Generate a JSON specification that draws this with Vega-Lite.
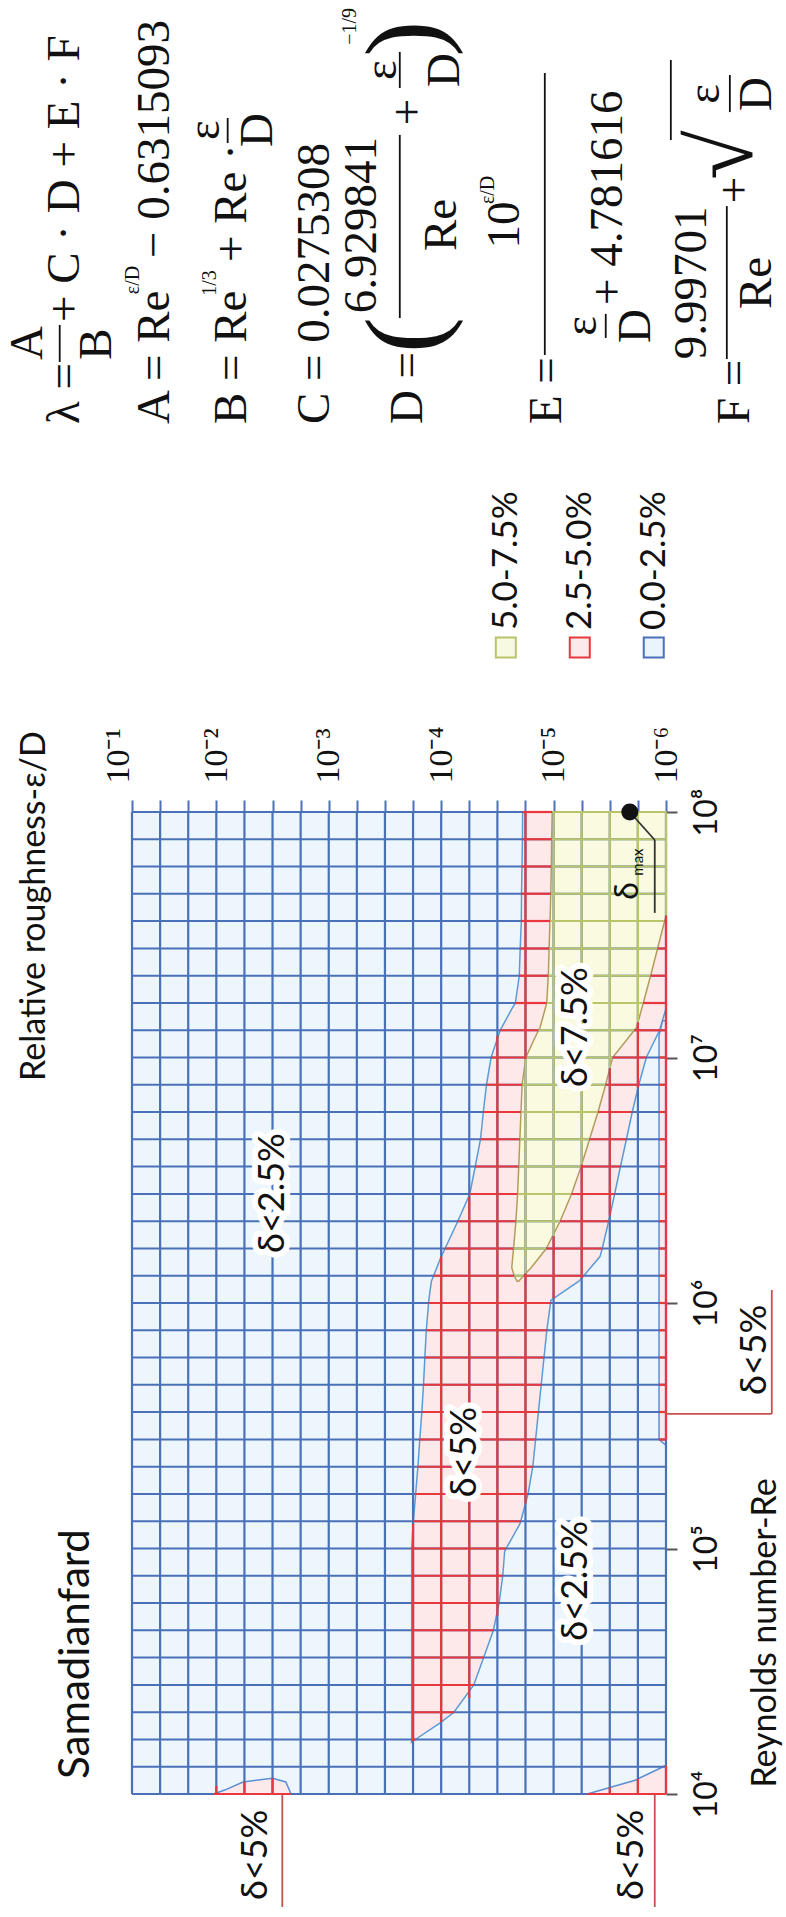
{
  "$schema": "https://vega.github.io/schema/vega-lite/v6.json",
  "width": 534,
  "height": 982,
  "autosize": {"type": "none"},
  "padding": {"left": 132, "top": 812, "right": 120, "bottom": 123},
  "background": "white",
  "config": {"view": {"stroke": null, "fill": "#edf6fd"}},
  "datasets": {
    "redA": [
      {"lre": 8, "lr": -4.725, "lr2": -6}, {"lre": 7.889, "lr": -4.723, "lr2": -6}, {"lre": 7.778, "lr": -4.719, "lr2": -6},
      {"lre": 7.667, "lr": -4.715, "lr2": -6}, {"lre": 7.556, "lr": -4.713, "lr2": -6}, {"lre": 7.444, "lr": -4.703, "lr2": -6},
      {"lre": 7.333, "lr": -4.695, "lr2": -6}, {"lre": 7.222, "lr": -4.66, "lr2": -6}, {"lre": 7.2, "lr": -4.631, "lr2": -6},
      {"lre": 7.122, "lr": -4.538, "lr2": -5.95}, {"lre": 7.111, "lr": -4.525, "lr2": -5.943}, {"lre": 7.0, "lr": -4.444, "lr2": -5.825},
      {"lre": 6.889, "lr": -4.403, "lr2": -5.758}, {"lre": 6.778, "lr": -4.375, "lr2": -5.7}, {"lre": 6.667, "lr": -4.35, "lr2": -5.648},
      {"lre": 6.556, "lr": -4.303, "lr2": -5.595}, {"lre": 6.444, "lr": -4.255, "lr2": -5.543}, {"lre": 6.333, "lr": -4.148, "lr2": -5.49},
      {"lre": 6.222, "lr": -4.035, "lr2": -5.433}, {"lre": 6.189, "lr": -4.0, "lr2": -5.413}, {"lre": 6.111, "lr": -3.933, "lr2": -5.268},
      {"lre": 6.089, "lr": -3.913, "lr2": -5.225}, {"lre": 6.011, "lr": -3.89, "lr2": -4.975}, {"lre": 6.0, "lr": -3.888, "lr2": -4.973},
      {"lre": 5.889, "lr": -3.868, "lr2": -4.94}, {"lre": 5.778, "lr": -3.855, "lr2": -4.915}, {"lre": 5.667, "lr": -3.843, "lr2": -4.89},
      {"lre": 5.556, "lr": -3.828, "lr2": -4.865}, {"lre": 5.444, "lr": -3.81, "lr2": -4.84}, {"lre": 5.333, "lr": -3.793, "lr2": -4.815},
      {"lre": 5.222, "lr": -3.773, "lr2": -4.773}, {"lre": 5.111, "lr": -3.753, "lr2": -4.708}, {"lre": 5.1, "lr": -3.75, "lr2": -4.7},
      {"lre": 5.0, "lr": -3.738, "lr2": -4.578}, {"lre": 4.989, "lr": -3.738, "lr2": -4.565}, {"lre": 4.889, "lr": -3.738, "lr2": -4.548},
      {"lre": 4.778, "lr": -3.738, "lr2": -4.515}, {"lre": 4.667, "lr": -3.738, "lr2": -4.465}, {"lre": 4.556, "lr": -3.738, "lr2": -4.378},
      {"lre": 4.444, "lr": -3.738, "lr2": -4.29}, {"lre": 4.333, "lr": -3.738, "lr2": -4.114}, {"lre": 4.289, "lr": -3.738, "lr2": -3.988},
      {"lre": 4.222, "lr": -3.738, "lr2": -3.77}, {"lre": 4.211, "lr": -3.736, "lr2": -3.736}
    ],
    "greenA": [
      {"lre": 8, "lr": -4.988, "lr2": -6}, {"lre": 7.889, "lr": -4.983, "lr2": -6}, {"lre": 7.778, "lr": -4.98, "lr2": -6},
      {"lre": 7.667, "lr": -4.975, "lr2": -6}, {"lre": 7.578, "lr": -4.97, "lr2": -6}, {"lre": 7.556, "lr": -4.968, "lr2": -5.988},
      {"lre": 7.444, "lr": -4.96, "lr2": -5.925}, {"lre": 7.333, "lr": -4.953, "lr2": -5.863}, {"lre": 7.222, "lr": -4.939, "lr2": -5.798},
      {"lre": 7.122, "lr": -4.88, "lr2": -5.738}, {"lre": 7.111, "lr": -4.865, "lr2": -5.718}, {"lre": 7.0, "lr": -4.753, "lr2": -5.525},
      {"lre": 6.889, "lr": -4.72, "lr2": -5.463}, {"lre": 6.778, "lr": -4.71, "lr2": -5.395}, {"lre": 6.667, "lr": -4.7, "lr2": -5.32},
      {"lre": 6.556, "lr": -4.69, "lr2": -5.245}, {"lre": 6.444, "lr": -4.68, "lr2": -5.16}, {"lre": 6.333, "lr": -4.665, "lr2": -5.058},
      {"lre": 6.222, "lr": -4.644, "lr2": -4.935}, {"lre": 6.144, "lr": -4.628, "lr2": -4.8}, {"lre": 6.111, "lr": -4.65, "lr2": -4.733},
      {"lre": 6.089, "lr": -4.675, "lr2": -4.69}
    ],
    "smallA": [
      {"g": "strip", "lre": 7.15, "lr": -5.97, "lr2": -6}, {"g": "strip", "lre": 7.09, "lr": -5.938, "lr2": -6},
      {"g": "strip", "lre": 5.444, "lr": -5.938, "lr2": -6}, {"g": "strip", "lre": 5.42, "lr": -6, "lr2": -6},
      {"g": "bump", "lre": 4.0, "lr": -1.975, "lr2": -2.663}, {"g": "bump", "lre": 4.016, "lr": -2.075, "lr2": -2.65},
      {"g": "bump", "lre": 4.049, "lr": -2.238, "lr2": -2.618}, {"g": "bump", "lre": 4.064, "lr": -2.5, "lr2": -2.5},
      {"g": "tri", "lre": 4.0, "lr": -5.3, "lr2": -6}, {"g": "tri", "lre": 4.056, "lr": -5.725, "lr2": -6},
      {"g": "tri", "lre": 4.111, "lr": -5.975, "lr2": -6}, {"g": "tri", "lre": 4.117, "lr": -6, "lr2": -6}
    ],
    "blue": [
      {"lr": -1.25, "lr2": -1.25, "lre": 4, "lre2": 8}, {"lr": -1.5, "lr2": -1.5, "lre": 4, "lre2": 8},
      {"lr": -1.75, "lr2": -1.75, "lre": 4, "lre2": 8}, {"lr": -2, "lr2": -2, "lre": 4, "lre2": 8},
      {"lr": -2.25, "lr2": -2.25, "lre": 4, "lre2": 8}, {"lr": -2.5, "lr2": -2.5, "lre": 4, "lre2": 8},
      {"lr": -2.75, "lr2": -2.75, "lre": 4, "lre2": 8}, {"lr": -3, "lr2": -3, "lre": 4, "lre2": 8},
      {"lr": -3.25, "lr2": -3.25, "lre": 4, "lre2": 8}, {"lr": -3.5, "lr2": -3.5, "lre": 4, "lre2": 8},
      {"lr": -3.75, "lr2": -3.75, "lre": 4, "lre2": 8}, {"lr": -4, "lr2": -4, "lre": 4, "lre2": 8},
      {"lr": -4.25, "lr2": -4.25, "lre": 4, "lre2": 8}, {"lr": -4.5, "lr2": -4.5, "lre": 4, "lre2": 8},
      {"lr": -4.75, "lr2": -4.75, "lre": 4, "lre2": 8}, {"lr": -5, "lr2": -5, "lre": 4, "lre2": 8},
      {"lr": -5.25, "lr2": -5.25, "lre": 4, "lre2": 8}, {"lr": -5.5, "lr2": -5.5, "lre": 4, "lre2": 8},
      {"lr": -5.75, "lr2": -5.75, "lre": 4, "lre2": 8}, {"lr": -6, "lr2": -6, "lre": 4, "lre2": 8},
      {"lr": -1.25, "lr2": -6, "lre": 8, "lre2": 8}, {"lr": -1.25, "lr2": -6, "lre": 7.889, "lre2": 7.889},
      {"lr": -1.25, "lr2": -6, "lre": 7.778, "lre2": 7.778}, {"lr": -1.25, "lr2": -6, "lre": 7.667, "lre2": 7.667},
      {"lr": -1.25, "lr2": -6, "lre": 7.556, "lre2": 7.556}, {"lr": -1.25, "lr2": -6, "lre": 7.444, "lre2": 7.444},
      {"lr": -1.25, "lr2": -6, "lre": 7.333, "lre2": 7.333}, {"lr": -1.25, "lr2": -6, "lre": 7.222, "lre2": 7.222},
      {"lr": -1.25, "lr2": -6, "lre": 7.111, "lre2": 7.111}, {"lr": -1.25, "lr2": -6, "lre": 7, "lre2": 7},
      {"lr": -1.25, "lr2": -6, "lre": 6.889, "lre2": 6.889}, {"lr": -1.25, "lr2": -6, "lre": 6.778, "lre2": 6.778},
      {"lr": -1.25, "lr2": -6, "lre": 6.667, "lre2": 6.667}, {"lr": -1.25, "lr2": -6, "lre": 6.556, "lre2": 6.556},
      {"lr": -1.25, "lr2": -6, "lre": 6.444, "lre2": 6.444}, {"lr": -1.25, "lr2": -6, "lre": 6.333, "lre2": 6.333},
      {"lr": -1.25, "lr2": -6, "lre": 6.222, "lre2": 6.222}, {"lr": -1.25, "lr2": -6, "lre": 6.111, "lre2": 6.111},
      {"lr": -1.25, "lr2": -6, "lre": 6, "lre2": 6}, {"lr": -1.25, "lr2": -6, "lre": 5.889, "lre2": 5.889},
      {"lr": -1.25, "lr2": -6, "lre": 5.778, "lre2": 5.778}, {"lr": -1.25, "lr2": -6, "lre": 5.667, "lre2": 5.667},
      {"lr": -1.25, "lr2": -6, "lre": 5.556, "lre2": 5.556}, {"lr": -1.25, "lr2": -6, "lre": 5.444, "lre2": 5.444},
      {"lr": -1.25, "lr2": -6, "lre": 5.333, "lre2": 5.333}, {"lr": -1.25, "lr2": -6, "lre": 5.222, "lre2": 5.222},
      {"lr": -1.25, "lr2": -6, "lre": 5.111, "lre2": 5.111}, {"lr": -1.25, "lr2": -6, "lre": 5, "lre2": 5},
      {"lr": -1.25, "lr2": -6, "lre": 4.889, "lre2": 4.889}, {"lr": -1.25, "lr2": -6, "lre": 4.778, "lre2": 4.778},
      {"lr": -1.25, "lr2": -6, "lre": 4.667, "lre2": 4.667}, {"lr": -1.25, "lr2": -6, "lre": 4.556, "lre2": 4.556},
      {"lr": -1.25, "lr2": -6, "lre": 4.444, "lre2": 4.444}, {"lr": -1.25, "lr2": -6, "lre": 4.333, "lre2": 4.333},
      {"lr": -1.25, "lr2": -6, "lre": 4.222, "lre2": 4.222}, {"lr": -1.25, "lr2": -6, "lre": 4.111, "lre2": 4.111},
      {"lr": -1.25, "lr2": -6, "lre": 4, "lre2": 4}
    ],
    "segs": [
      {"k": "r", "lre": 8, "lre2": 8, "lr": -4.725, "lr2": -4.988}, {"k": "g", "lre": 8, "lre2": 8, "lr": -4.988, "lr2": -6},
      {"k": "r", "lre": 7.889, "lre2": 7.889, "lr": -4.723, "lr2": -4.983}, {"k": "g", "lre": 7.889, "lre2": 7.889, "lr": -4.983, "lr2": -6},
      {"k": "r", "lre": 7.778, "lre2": 7.778, "lr": -4.719, "lr2": -4.98}, {"k": "g", "lre": 7.778, "lre2": 7.778, "lr": -4.98, "lr2": -6},
      {"k": "r", "lre": 7.667, "lre2": 7.667, "lr": -4.715, "lr2": -4.975}, {"k": "g", "lre": 7.667, "lre2": 7.667, "lr": -4.975, "lr2": -6},
      {"k": "r", "lre": 7.556, "lre2": 7.556, "lr": -4.713, "lr2": -4.968}, {"k": "g", "lre": 7.556, "lre2": 7.556, "lr": -4.968, "lr2": -5.988}, {"k": "r", "lre": 7.556, "lre2": 7.556, "lr": -5.988, "lr2": -6},
      {"k": "r", "lre": 7.444, "lre2": 7.444, "lr": -4.703, "lr2": -4.96}, {"k": "g", "lre": 7.444, "lre2": 7.444, "lr": -4.96, "lr2": -5.925}, {"k": "r", "lre": 7.444, "lre2": 7.444, "lr": -5.925, "lr2": -6},
      {"k": "r", "lre": 7.333, "lre2": 7.333, "lr": -4.695, "lr2": -4.953}, {"k": "g", "lre": 7.333, "lre2": 7.333, "lr": -4.953, "lr2": -5.863}, {"k": "r", "lre": 7.333, "lre2": 7.333, "lr": -5.863, "lr2": -6},
      {"k": "r", "lre": 7.222, "lre2": 7.222, "lr": -4.66, "lr2": -4.939}, {"k": "g", "lre": 7.222, "lre2": 7.222, "lr": -4.939, "lr2": -5.798}, {"k": "r", "lre": 7.222, "lre2": 7.222, "lr": -5.798, "lr2": -6},
      {"k": "r", "lre": 7.111, "lre2": 7.111, "lr": -4.525, "lr2": -4.865}, {"k": "g", "lre": 7.111, "lre2": 7.111, "lr": -4.865, "lr2": -5.718}, {"k": "r", "lre": 7.111, "lre2": 7.111, "lr": -5.718, "lr2": -6},
      {"k": "r", "lre": 7, "lre2": 7, "lr": -4.444, "lr2": -4.753}, {"k": "g", "lre": 7, "lre2": 7, "lr": -4.753, "lr2": -5.525}, {"k": "r", "lre": 7, "lre2": 7, "lr": -5.525, "lr2": -5.825}, {"k": "r", "lre": 7, "lre2": 7, "lr": -5.938, "lr2": -6},
      {"k": "r", "lre": 6.889, "lre2": 6.889, "lr": -4.403, "lr2": -4.72}, {"k": "g", "lre": 6.889, "lre2": 6.889, "lr": -4.72, "lr2": -5.463}, {"k": "r", "lre": 6.889, "lre2": 6.889, "lr": -5.463, "lr2": -5.758}, {"k": "r", "lre": 6.889, "lre2": 6.889, "lr": -5.938, "lr2": -6},
      {"k": "r", "lre": 6.778, "lre2": 6.778, "lr": -4.375, "lr2": -4.71}, {"k": "g", "lre": 6.778, "lre2": 6.778, "lr": -4.71, "lr2": -5.395}, {"k": "r", "lre": 6.778, "lre2": 6.778, "lr": -5.395, "lr2": -5.7}, {"k": "r", "lre": 6.778, "lre2": 6.778, "lr": -5.938, "lr2": -6},
      {"k": "r", "lre": 6.667, "lre2": 6.667, "lr": -4.35, "lr2": -4.7}, {"k": "g", "lre": 6.667, "lre2": 6.667, "lr": -4.7, "lr2": -5.32}, {"k": "r", "lre": 6.667, "lre2": 6.667, "lr": -5.32, "lr2": -5.648}, {"k": "r", "lre": 6.667, "lre2": 6.667, "lr": -5.938, "lr2": -6},
      {"k": "r", "lre": 6.556, "lre2": 6.556, "lr": -4.303, "lr2": -4.69}, {"k": "g", "lre": 6.556, "lre2": 6.556, "lr": -4.69, "lr2": -5.245}, {"k": "r", "lre": 6.556, "lre2": 6.556, "lr": -5.245, "lr2": -5.595}, {"k": "r", "lre": 6.556, "lre2": 6.556, "lr": -5.938, "lr2": -6},
      {"k": "r", "lre": 6.444, "lre2": 6.444, "lr": -4.255, "lr2": -4.68}, {"k": "g", "lre": 6.444, "lre2": 6.444, "lr": -4.68, "lr2": -5.16}, {"k": "r", "lre": 6.444, "lre2": 6.444, "lr": -5.16, "lr2": -5.543}, {"k": "r", "lre": 6.444, "lre2": 6.444, "lr": -5.938, "lr2": -6},
      {"k": "r", "lre": 6.333, "lre2": 6.333, "lr": -4.148, "lr2": -4.665}, {"k": "g", "lre": 6.333, "lre2": 6.333, "lr": -4.665, "lr2": -5.058}, {"k": "r", "lre": 6.333, "lre2": 6.333, "lr": -5.058, "lr2": -5.49}, {"k": "r", "lre": 6.333, "lre2": 6.333, "lr": -5.938, "lr2": -6},
      {"k": "r", "lre": 6.222, "lre2": 6.222, "lr": -4.035, "lr2": -4.644}, {"k": "g", "lre": 6.222, "lre2": 6.222, "lr": -4.644, "lr2": -4.935}, {"k": "r", "lre": 6.222, "lre2": 6.222, "lr": -4.935, "lr2": -5.433}, {"k": "r", "lre": 6.222, "lre2": 6.222, "lr": -5.938, "lr2": -6},
      {"k": "r", "lre": 6.111, "lre2": 6.111, "lr": -3.933, "lr2": -4.65}, {"k": "g", "lre": 6.111, "lre2": 6.111, "lr": -4.65, "lr2": -4.733}, {"k": "r", "lre": 6.111, "lre2": 6.111, "lr": -4.733, "lr2": -5.268}, {"k": "r", "lre": 6.111, "lre2": 6.111, "lr": -5.938, "lr2": -6},
      {"k": "r", "lre": 6, "lre2": 6, "lr": -3.888, "lr2": -4.973}, {"k": "r", "lre": 6, "lre2": 6, "lr": -5.938, "lr2": -6},
      {"k": "r", "lre": 5.889, "lre2": 5.889, "lr": -3.868, "lr2": -4.94}, {"k": "r", "lre": 5.889, "lre2": 5.889, "lr": -5.938, "lr2": -6},
      {"k": "r", "lre": 5.778, "lre2": 5.778, "lr": -3.855, "lr2": -4.915}, {"k": "r", "lre": 5.778, "lre2": 5.778, "lr": -5.938, "lr2": -6},
      {"k": "r", "lre": 5.667, "lre2": 5.667, "lr": -3.843, "lr2": -4.89}, {"k": "r", "lre": 5.667, "lre2": 5.667, "lr": -5.938, "lr2": -6},
      {"k": "r", "lre": 5.556, "lre2": 5.556, "lr": -3.828, "lr2": -4.865}, {"k": "r", "lre": 5.556, "lre2": 5.556, "lr": -5.938, "lr2": -6},
      {"k": "r", "lre": 5.444, "lre2": 5.444, "lr": -3.81, "lr2": -4.84}, {"k": "r", "lre": 5.444, "lre2": 5.444, "lr": -5.938, "lr2": -6},
      {"k": "r", "lre": 5.333, "lre2": 5.333, "lr": -3.793, "lr2": -4.815},
      {"k": "r", "lre": 5.222, "lre2": 5.222, "lr": -3.773, "lr2": -4.773},
      {"k": "r", "lre": 5.111, "lre2": 5.111, "lr": -3.753, "lr2": -4.708},
      {"k": "r", "lre": 5, "lre2": 5, "lr": -3.738, "lr2": -4.578},
      {"k": "r", "lre": 4.889, "lre2": 4.889, "lr": -3.738, "lr2": -4.548},
      {"k": "r", "lre": 4.778, "lre2": 4.778, "lr": -3.738, "lr2": -4.515},
      {"k": "r", "lre": 4.667, "lre2": 4.667, "lr": -3.738, "lr2": -4.465},
      {"k": "r", "lre": 4.556, "lre2": 4.556, "lr": -3.738, "lr2": -4.378},
      {"k": "r", "lre": 4.444, "lre2": 4.444, "lr": -3.738, "lr2": -4.29},
      {"k": "r", "lre": 4.333, "lre2": 4.333, "lr": -3.738, "lr2": -4.114},
      {"k": "r", "lre": 4.222, "lre2": 4.222, "lr": -3.738, "lr2": -3.77},
      {"k": "r", "lre": 4, "lre2": 4, "lr": -1.975, "lr2": -2.663}, {"k": "r", "lre": 4, "lre2": 4, "lr": -5.3, "lr2": -6},
      {"k": "r", "lr": -3.75, "lr2": -3.75, "lre": 5.1, "lre2": 4.216},
      {"k": "r", "lr": -4, "lr2": -4, "lre": 6.189, "lre2": 4.293},
      {"k": "r", "lr": -4.25, "lr2": -4.25, "lre": 6.433, "lre2": 4.391},
      {"k": "r", "lr": -4.5, "lr2": -4.5, "lre": 7.089, "lre2": 4.726},
      {"k": "r", "lr": -4.75, "lr2": -4.75, "lre": 8, "lre2": 6.994}, {"k": "g", "lr": -4.75, "lr2": -4.75, "lre": 6.994, "lre2": 6.12}, {"k": "r", "lr": -4.75, "lr2": -4.75, "lre": 6.12, "lre2": 5.183},
      {"k": "g", "lr": -5, "lr2": -5, "lre": 8, "lre2": 6.271}, {"k": "r", "lr": -5, "lr2": -5, "lre": 6.271, "lre2": 6.019},
      {"k": "g", "lr": -5.25, "lr2": -5.25, "lre": 8, "lre2": 6.563}, {"k": "r", "lr": -5.25, "lr2": -5.25, "lre": 6.563, "lre2": 6.102},
      {"k": "g", "lr": -5.5, "lr2": -5.5, "lre": 8, "lre2": 6.956}, {"k": "r", "lr": -5.5, "lr2": -5.5, "lre": 6.956, "lre2": 6.356},
      {"k": "g", "lr": -5.75, "lr2": -5.75, "lre": 8, "lre2": 7.143}, {"k": "r", "lr": -5.75, "lr2": -5.75, "lre": 7.143, "lre2": 6.878},
      {"k": "g", "lr": -6, "lr2": -6, "lre": 8, "lre2": 7.578}, {"k": "r", "lr": -6, "lr2": -6, "lre": 7.578, "lre2": 5.444},
      {"k": "r", "lr": -2, "lr2": -2, "lre": 4.033, "lre2": 4}, {"k": "r", "lr": -2.25, "lr2": -2.25, "lre": 4.05, "lre2": 4},
      {"k": "r", "lr": -2.5, "lr2": -2.5, "lre": 4.064, "lre2": 4}, {"k": "r", "lr": -5.5, "lr2": -5.5, "lre": 4.027, "lre2": 4},
      {"k": "r", "lr": -5.75, "lr2": -5.75, "lre": 4.061, "lre2": 4}, {"k": "r", "lr": -6, "lr2": -6, "lre": 4.117, "lre2": 4}
    ],
    "lines": [
      {"k": "lead", "lr": -2.587, "lr2": -2.587, "lre": 4, "lre2": 3.54},
      {"k": "lead", "lr": -5.9, "lr2": -5.9, "lre": 4, "lre2": 3.54},
      {"k": "lead", "lr": -6.941, "lr2": -6.941, "lre": 6.053, "lre2": 5.548},
      {"k": "lead", "lr": -6.0, "lr2": -6.941, "lre": 5.548, "lre2": 5.548},
      {"k": "dm", "lr": -5.678, "lr2": -5.9, "lre": 8, "lre2": 7.886},
      {"k": "dm", "lr": -5.9, "lr2": -5.9, "lre": 7.886, "lre2": 7.589},
      {"k": "f", "lr": -0.607, "lr2": -0.607, "lre": 9.984, "lre2": 9.833},
      {"k": "f", "lr": -2.101, "lr2": -2.101, "lre": 10.827, "lre2": 10.725},
      {"k": "f", "lr": -3.632, "lr2": -3.632, "lre": 10.758, "lre2": 10.012},
      {"k": "f", "lr": -3.632, "lr2": -3.632, "lre": 11.096, "lre2": 10.949},
      {"k": "f", "lr": -4.922, "lr2": -4.922, "lre": 11.01, "lre2": 9.862},
      {"k": "f", "lr": -5.464, "lr2": -5.464, "lre": 10.029, "lre2": 9.931},
      {"k": "f", "lr": -6.541, "lr2": -6.541, "lre": 10.468, "lre2": 9.845},
      {"k": "f", "lr": -6.568, "lr2": -6.568, "lre": 11.002, "lre2": 10.851},
      {"k": "f", "lr": -6.043, "lr2": -6.043, "lre": 11.063, "lre2": 10.737}
    ],
    "regLabels": [
      {"t": "δ<2.5%", "lr": -2.503, "lre": 6.448},
      {"t": "δ<5%", "lr": -4.21, "lre": 5.393},
      {"t": "δ<2.5%", "lr": -5.198, "lre": 4.868},
      {"t": "δ<7.5%", "lr": -5.198, "lre": 7.124},
      {"t": "δ<5%", "lr": -2.35, "lre": 3.752},
      {"t": "δ<5%", "lr": -5.696, "lre": 3.752},
      {"t": "δ<5%", "lr": -6.79, "lre": 5.809}
    ],
    "title1": [{"t": "Samadianfard", "lr": -0.749, "lre": 4.57}],
    "title2": [
      {"t": "Relative roughness-ε/D", "lr": -0.384, "lre": 7.617},
      {"t": "Reynolds number-Re", "lr": -6.888, "lre": 4.656}
    ],
    "legSq": [
      {"k": "g", "lr": -4.575, "lre": 8.67},
      {"k": "r", "lr": -5.233, "lre": 8.67},
      {"k": "b", "lr": -5.891, "lre": 8.67}
    ],
    "legText": [
      {"t": "5.0-7.5%", "lr": -4.575, "lre": 8.741},
      {"t": "2.5-5.0%", "lr": -5.233, "lre": 8.741},
      {"t": "0.0-2.5%", "lr": -5.891, "lre": 8.741}
    ],
    "dot": [{"lr": -5.678, "lre": 8}],
    "dBig": [{"t": "δ", "lr": -5.66, "lre": 7.678}],
    "dSmall": [{"t": "max", "lr": -5.749, "lre": 7.796}],
    "fLeft": [
      {"t": "λ =", "lr": -0.651, "lre": 9.58},
      {"t": "+ C · D + E · F", "lr": -0.651, "lre": 9.996},
      {"t": "A = Re", "lr": -1.452, "lre": 9.58},
      {"t": "− 0.6315093", "lr": -1.452, "lre": 10.257},
      {"t": "B = Re", "lr": -2.137, "lre": 9.58},
      {"t": "+ Re ·", "lr": -2.137, "lre": 10.24},
      {"t": "C = 0.0275308", "lr": -2.875, "lre": 9.58},
      {"t": "D =", "lr": -3.703, "lre": 9.58},
      {"t": "E =", "lr": -4.939, "lre": 9.58},
      {"t": "+ 4.781616", "lr": -5.482, "lre": 10.065},
      {"t": "F =", "lr": -6.612, "lre": 9.58}
    ],
    "fCenter": [
      {"t": "A", "lr": -0.322, "lre": 9.91},
      {"t": "B", "lr": -0.936, "lre": 9.906},
      {"t": "ε", "lr": -1.897, "lre": 10.778},
      {"t": "D", "lr": -2.368, "lre": 10.778},
      {"t": "6.929841", "lr": -3.294, "lre": 10.391},
      {"t": "Re", "lr": -4.005, "lre": 10.391},
      {"t": "+", "lr": -3.703, "lre": 10.851},
      {"t": "ε", "lr": -3.472, "lre": 11.022},
      {"t": "D", "lr": -4.032, "lre": 11.022},
      {"t": "10", "lr": -4.566, "lre": 10.391},
      {"t": "ε", "lr": -5.251, "lre": 9.98},
      {"t": "D", "lr": -5.731, "lre": 9.98},
      {"t": "9.99701", "lr": -6.23, "lre": 10.155},
      {"t": "Re", "lr": -6.808, "lre": 10.155},
      {"t": "+", "lr": -6.612, "lre": 10.534},
      {"t": "ε", "lr": -6.345, "lre": 10.925},
      {"t": "D", "lr": -6.808, "lre": 10.925}
    ],
    "fSmall": [
      {"t": "ε/D", "lr": -1.256, "lre": 10.167},
      {"t": "1/3", "lr": -1.941, "lre": 10.155},
      {"t": "−1/9", "lr": -3.187, "lre": 11.2},
      {"t": "ε/D", "lr": -4.415, "lre": 10.534}
    ],
    "fParen": [
      {"t": "(", "lr": -3.703, "lre": 9.943},
      {"t": ")", "lr": -3.703, "lre": 11.15}
    ],
    "fRad": [{"t": "√", "lr": -6.523, "lre": 10.676}]
  },
  "encoding": {
    "x": {
      "field": "lr", "type": "quantitative",
      "scale": {"domain": [-6, -1.25], "reverse": true, "nice": false, "zero": false},
      "axis": {
        "orient": "top", "title": null, "grid": false, "domain": false,
        "values": [-1.25, -1.5, -1.75, -2, -2.25, -2.5, -2.75, -3, -3.25, -3.5, -3.75, -4, -4.25, -4.5, -4.75, -5, -5.25, -5.5, -5.75, -6],
        "labelExpr": "datum.value == -1.25 ? '10⁻¹' : datum.value == -2 ? '10⁻²' : datum.value == -3 ? '10⁻³' : datum.value == -4 ? '10⁻⁴' : datum.value == -5 ? '10⁻⁵' : datum.value == -6 ? '10⁻⁶' : ''",
        "labelAngle": -90, "labelAlign": "left", "labelBaseline": "middle",
        "labelFont": "Liberation Serif", "labelFontSize": 34, "labelColor": "#111111",
        "labelPadding": 17, "labelFlush": false, "labelOverlap": false, "labelBound": false,
        "labelOffset": {"condition": {"test": "datum.value == -1.25", "value": -14}, "value": 0},
        "ticks": true, "tickSize": 12, "tickWidth": 2, "tickColor": "#4a70b8"
      }
    },
    "y": {
      "field": "lre", "type": "quantitative",
      "scale": {"domain": [4, 8], "nice": false, "zero": false},
      "axis": {
        "orient": "right", "title": null, "grid": false, "domain": false,
        "values": [4, 5, 6, 7, 8],
        "labelExpr": "datum.value == 4 ? '10⁴' : datum.value == 5 ? '10⁵' : datum.value == 6 ? '10⁶' : datum.value == 7 ? '10⁷' : '10⁸'",
        "labelAngle": -90, "labelAlign": "center", "labelBaseline": "top",
        "labelFont": "Lato", "labelFontSize": 32, "labelColor": "#111111",
        "labelPadding": 14, "labelFlush": false, "labelOverlap": false, "labelBound": false,
        "ticks": true, "tickSize": 11, "tickWidth": 2, "tickColor": "#555555"
      }
    }
  },
  "layer": [
    {
      "data": {"name": "redA"},
      "mark": {"type": "area", "orient": "horizontal", "fill": "#fde8ea", "stroke": "#5b9bd5", "strokeWidth": 1.5},
      "encoding": {"x2": {"field": "lr2"}}
    },
    {
      "data": {"name": "greenA"},
      "mark": {"type": "area", "orient": "horizontal", "fill": "#f9fadf", "stroke": "#b59c5c", "strokeWidth": 1.5},
      "encoding": {"x2": {"field": "lr2"}}
    },
    {
      "data": {"name": "smallA"},
      "mark": {"type": "area", "orient": "horizontal", "fill": "#fde8ea", "stroke": "#5b8fd4", "strokeWidth": 1.5},
      "encoding": {"x2": {"field": "lr2"}, "detail": {"field": "g"}}
    },
    {
      "data": {"name": "blue"},
      "mark": {"type": "rule", "stroke": "#4a70b8", "strokeWidth": 2.2},
      "encoding": {"x2": {"field": "lr2"}, "y2": {"field": "lre2"}}
    },
    {
      "data": {"name": "segs"},
      "mark": {"type": "rule", "strokeWidth": 2.2},
      "encoding": {
        "x2": {"field": "lr2"}, "y2": {"field": "lre2"},
        "stroke": {"field": "k", "type": "nominal", "legend": null,
          "scale": {"domain": ["r", "g", "b", "lead", "dm", "f"], "range": ["#e8383d", "#b9c46b", "#4a70b8", "#c8504c", "#333333", "#111111"]}}
      }
    },
    {
      "data": {"name": "regLabels"},
      "mark": {"type": "text", "angle": 270, "font": "Lato", "fontSize": 36, "align": "center", "baseline": "middle", "fill": "white", "stroke": "white", "strokeWidth": 12, "strokeJoin": "round"},
      "encoding": {"text": {"field": "t"}}
    },
    {
      "data": {"name": "regLabels"},
      "mark": {"type": "text", "angle": 270, "font": "Lato", "fontSize": 36, "align": "center", "baseline": "middle", "color": "#111111"},
      "encoding": {"text": {"field": "t"}}
    },
    {
      "data": {"name": "lines"},
      "mark": {"type": "rule", "strokeWidth": 1.8},
      "encoding": {
        "x2": {"field": "lr2"}, "y2": {"field": "lre2"},
        "stroke": {"field": "k", "type": "nominal", "legend": null,
          "scale": {"domain": ["r", "g", "b", "lead", "dm", "f"], "range": ["#e8383d", "#b9c46b", "#4a70b8", "#c8504c", "#333333", "#111111"]}}
      }
    },
    {
      "data": {"name": "dot"},
      "mark": {"type": "point", "shape": "circle", "size": 290, "filled": true, "color": "#111111", "opacity": 1}
    },
    {
      "data": {"name": "legSq"},
      "mark": {"type": "point", "shape": "square", "size": 400, "filled": true, "strokeWidth": 2, "opacity": 1},
      "encoding": {
        "fill": {"field": "k", "type": "nominal", "legend": null,
          "scale": {"domain": ["g", "r", "b"], "range": ["#f7f9e0", "#fde8ea", "#eaf4fc"]}},
        "stroke": {"field": "k", "type": "nominal", "legend": null,
          "scale": {"domain": ["r", "g", "b", "lead", "dm", "f"], "range": ["#e8383d", "#b9c46b", "#4a70b8", "#c8504c", "#333333", "#111111"]}}
      }
    },
    {
      "data": {"name": "legText"},
      "mark": {"type": "text", "angle": 270, "font": "Lato", "fontSize": 35, "align": "left", "baseline": "middle", "color": "#111111"},
      "encoding": {"text": {"field": "t"}}
    },
    {
      "data": {"name": "title1"},
      "mark": {"type": "text", "angle": 270, "font": "Lato", "fontSize": 42, "align": "center", "baseline": "middle", "color": "#111111"},
      "encoding": {"text": {"field": "t"}}
    },
    {
      "data": {"name": "title2"},
      "mark": {"type": "text", "angle": 270, "font": "Lato", "fontSize": 34, "align": "center", "baseline": "middle", "color": "#111111"},
      "encoding": {"text": {"field": "t"}}
    },
    {
      "data": {"name": "dBig"},
      "mark": {"type": "text", "angle": 270, "font": "Lato", "fontSize": 32, "align": "center", "baseline": "middle", "color": "#111111"},
      "encoding": {"text": {"field": "t"}}
    },
    {
      "data": {"name": "dSmall"},
      "mark": {"type": "text", "angle": 270, "font": "Lato", "fontSize": 15, "align": "center", "baseline": "middle", "color": "#111111"},
      "encoding": {"text": {"field": "t"}}
    },
    {
      "data": {"name": "fLeft"},
      "mark": {"type": "text", "angle": 270, "font": "Liberation Serif", "fontSize": 47, "align": "left", "baseline": "middle", "color": "#111111"},
      "encoding": {"text": {"field": "t"}}
    },
    {
      "data": {"name": "fCenter"},
      "mark": {"type": "text", "angle": 270, "font": "Liberation Serif", "fontSize": 47, "align": "center", "baseline": "middle", "color": "#111111"},
      "encoding": {"text": {"field": "t"}}
    },
    {
      "data": {"name": "fSmall"},
      "mark": {"type": "text", "angle": 270, "font": "Liberation Serif", "fontSize": 20, "align": "center", "baseline": "middle", "color": "#111111"},
      "encoding": {"text": {"field": "t"}}
    },
    {
      "data": {"name": "fParen"},
      "mark": {"type": "text", "angle": 270, "font": "Liberation Serif", "fontSize": 108, "align": "center", "baseline": "middle", "color": "#111111"},
      "encoding": {"text": {"field": "t"}}
    },
    {
      "data": {"name": "fRad"},
      "mark": {"type": "text", "angle": 270, "font": "Liberation Serif", "fontSize": 90, "align": "center", "baseline": "middle", "color": "#111111"},
      "encoding": {"text": {"field": "t"}}
    }
  ]
}
